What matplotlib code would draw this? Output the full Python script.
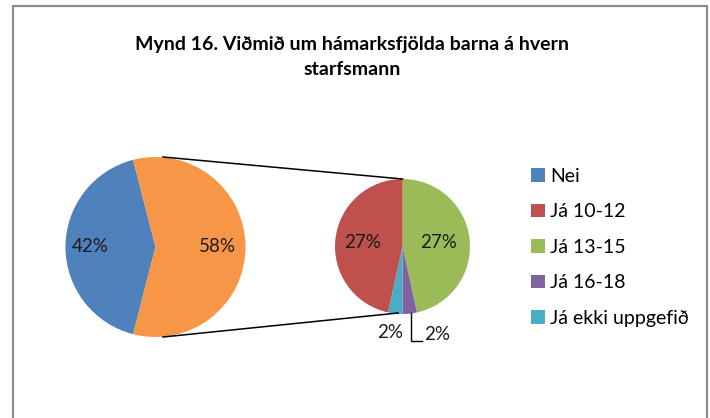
import matplotlib
matplotlib.use("Agg")
import matplotlib.pyplot as plt
from matplotlib.patches import Rectangle
import numpy as np

plt.rcParams['font.family'] = ['Lato', 'DejaVu Sans']

title = "Mynd 16. Viðmið um hámarksfjölda barna á hvern\nstarfsmann"
main_labels = ["Nei", "Já"]
main_values = [42, 58]
sub_labels = ["Já 10-12", "Já 13-15", "Já 16-18", "Já ekki uppgefið"]
sub_values = [27, 27, 2, 2]
colors = {"Nei": "#4F81BD", "Já": "#F79646", "Já 10-12": "#C0504D",
          "Já 13-15": "#9BBB59", "Já 16-18": "#8064A2", "Já ekki uppgefið": "#4BACC6"}

W, H = 710, 418
fig = plt.figure(figsize=(W / 100, H / 100), dpi=100)
ax = fig.add_axes([0, 0, 1, 1])
ax.set_xlim(0, W)
ax.set_ylim(0, H)
ax.set_aspect('equal')
ax.axis('off')

def Y(y):
    return H - y

# outer border
fig.patches.append(Rectangle((13 / W, -0.1), (707 - 13) / W, (H - 6) / H + 0.1,
                             transform=fig.transFigure, fill=False,
                             edgecolor="#8c8c8c", linewidth=1.6))

# left pie
c1 = (155.5, Y(247)); r1 = 90
other_frac = main_values[1] / sum(main_values)
start1 = other_frac * 180
w1, _ = ax.pie(main_values, colors=[colors[l] for l in main_labels], center=c1,
               radius=r1, startangle=start1, counterclock=True,
               wedgeprops=dict(linewidth=0), frame=True)

# right pie (clockwise from top: 13-15, 16-18, ekki, 10-12)
order = [1, 2, 3, 0]
c2 = (402.5, Y(246.5)); r2 = 67.5
w2, _ = ax.pie([sub_values[i] for i in order], colors=[colors[sub_labels[i]] for i in order],
               center=c2, radius=r2, startangle=90, counterclock=False,
               wedgeprops=dict(linewidth=0), frame=True)
ax.set_xlim(0, W)
ax.set_ylim(0, H)
ax.axis('off')

# connector lines
ax.plot([163, 402.5], [Y(157), Y(179)], color="black", lw=1.1)
ax.plot([163, 398], [Y(337), Y(313)], color="black", lw=1.1)

fs = 13.5
def mid_label(w, center, r, frac, text):
    a = np.deg2rad((w.theta1 + w.theta2) / 2)
    ax.text(center[0] + r * frac * np.cos(a), center[1] + r * frac * np.sin(a), text,
            ha='center', va='center', fontsize=fs, color="#1a1a1a")

mid_label(w1[0], c1, r1, 0.72, f"{main_values[0]}%")
mid_label(w1[1], c1, r1, 0.69, f"{main_values[1]}%")
mid_label(w2[0], c2, r2, 0.53, f"{sub_values[1]}%")
mid_label(w2[3], c2, r2, 0.6, f"{sub_values[0]}%")
# small labels
ax.text(390, Y(332), f"{sub_values[3]}%", ha='center', va='center', fontsize=fs, color="#1a1a1a")
ax.plot([411, 411, 422], [Y(313), Y(341), Y(341)], color="black", lw=1.0)
ax.text(437, Y(335), f"{sub_values[2]}%", ha='center', va='center', fontsize=fs, color="#1a1a1a")

# title
ax.text(352, Y(57), title, ha='center', va='center', fontsize=14, fontweight='bold',
        linespacing=1.6, color="black")

# legend
handles = [w1[0], w2[3], w2[0], w2[1], w2[2]]
leg_labels = ["Nei"] + sub_labels
leg = ax.legend(handles, leg_labels, loc='upper left', bbox_to_anchor=(531 / W, 1 - 168 / H),
                bbox_transform=fig.transFigure, frameon=False, fontsize=14,
                handlelength=0.7, handleheight=0.7, handletextpad=0.3,
                labelspacing=0.95, borderaxespad=0, borderpad=0)

fig.savefig("out.png", dpi=100, facecolor="white")
